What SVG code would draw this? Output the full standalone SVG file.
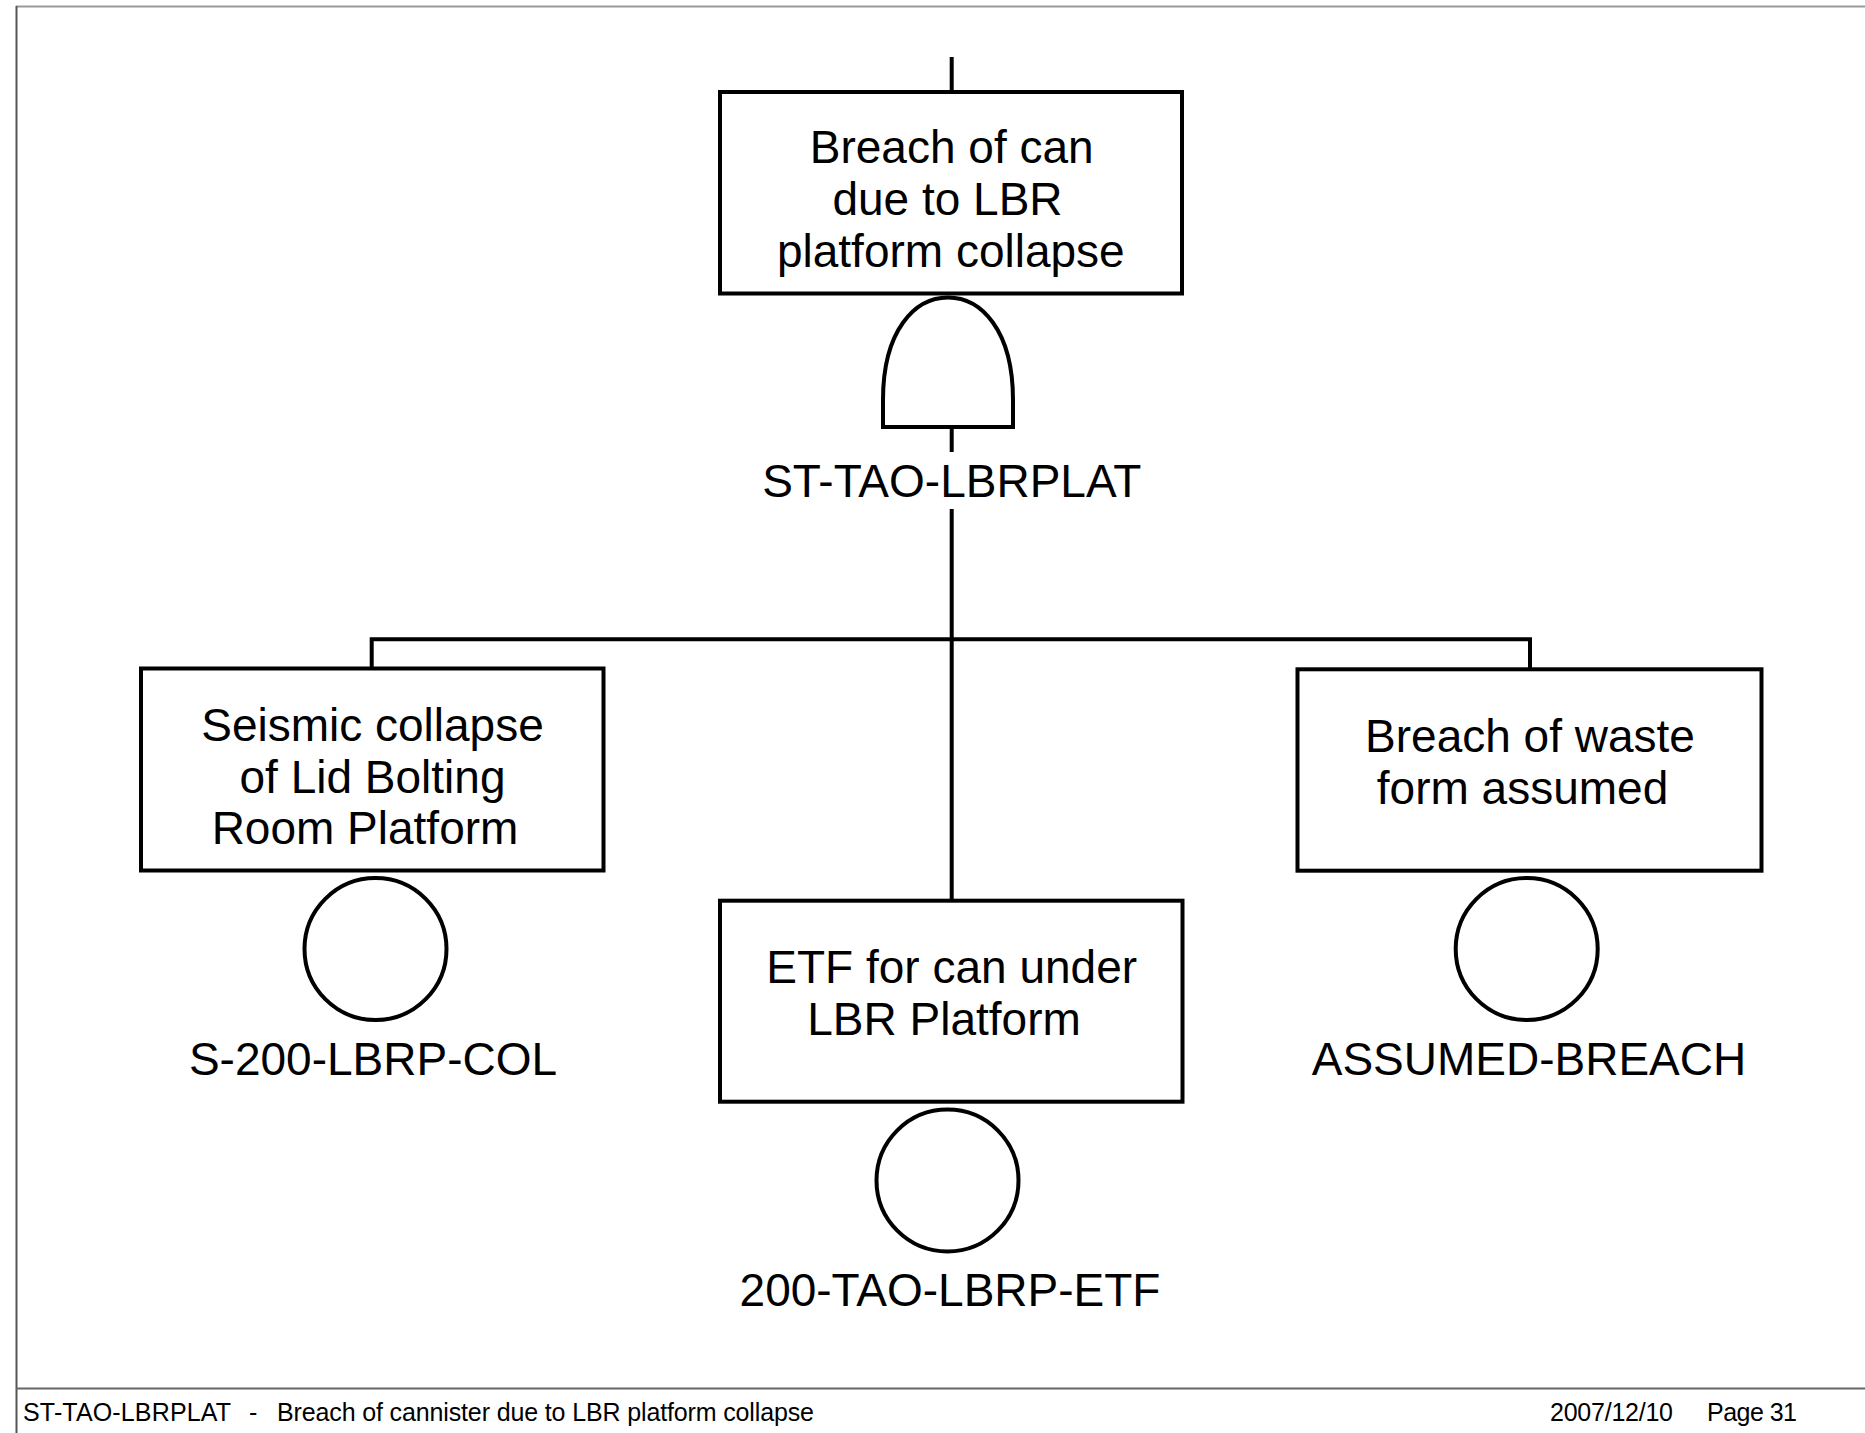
<svg xmlns="http://www.w3.org/2000/svg" width="1865" height="1433" viewBox="0 0 1865 1433">
<style>
  .bx { fill: #fff; stroke: #000; stroke-width: 4; }
  .ln { fill: none; stroke: #000; stroke-width: 4; }
  .t { font-family: "Liberation Sans", Arial, sans-serif; font-size: 46px; fill: #000; text-anchor: middle; }
  .f { font-family: "Liberation Sans", Arial, sans-serif; font-size: 25px; fill: #000; }
</style>
<rect x="0" y="0" width="1865" height="1433" fill="#fff"/>
<g id="page-frame">
  <line x1="16" y1="6.5" x2="1865" y2="6.5" stroke="#9a9a9a" stroke-width="2"/>
  <line x1="16.5" y1="6" x2="16.5" y2="1433" stroke="#555" stroke-width="2"/>
  <line x1="16" y1="1388.5" x2="1865" y2="1388.5" stroke="#666" stroke-width="2"/>
</g>
<g id="connectors">
  <line class="ln" x1="951.7" y1="57" x2="951.7" y2="92"/>
  <line class="ln" x1="951.7" y1="427" x2="951.7" y2="452"/>
  <line class="ln" x1="951.7" y1="509" x2="951.7" y2="901"/>
  <polyline class="ln" points="371.7,669 371.7,639.3 1530,639.3 1530,669"/>
</g>
<g id="top-event">
  <rect class="bx" x="720" y="92" width="462" height="201.5"/>
  <text class="t" x="951.7" y="163.3">Breach of can</text>
  <text class="t" x="947.5" y="215">due to LBR</text>
  <text class="t" x="950.8" y="266.5">platform collapse</text>
</g>
<g id="and-gate">
  <path class="ln" d="M883 427 L883 400 C883 330 915 297.5 948 297.5 C981 297.5 1013 330 1013 400 L1013 427 Z"/>
  <text class="t" x="951.7" y="496.7">ST-TAO-LBRPLAT</text>
</g>
<g id="seismic-collapse">
  <rect class="bx" x="141" y="668.5" width="462.5" height="202"/>
  <text class="t" x="372.5" y="740.5">Seismic collapse</text>
  <text class="t" x="372.5" y="792.5">of Lid Bolting</text>
  <text class="t" x="365" y="844">Room Platform</text>
  <circle class="ln" cx="375.5" cy="949" r="71"/>
  <text class="t" x="373" y="1075">S-200-LBRP-COL</text>
</g>
<g id="etf">
  <rect class="bx" x="720" y="900.7" width="462.5" height="201"/>
  <text class="t" x="951.7" y="983">ETF for can under</text>
  <text class="t" x="944" y="1035.3">LBR Platform</text>
  <circle class="ln" cx="947.5" cy="1180.5" r="71"/>
  <text class="t" x="950" y="1306">200-TAO-LBRP-ETF</text>
</g>
<g id="assumed-breach">
  <rect class="bx" x="1297.5" y="669.3" width="464" height="201.4"/>
  <text class="t" x="1530" y="752">Breach of waste</text>
  <text class="t" x="1522.5" y="803.7">form assumed</text>
  <circle class="ln" cx="1526.7" cy="949" r="71"/>
  <text class="t" x="1529" y="1075">ASSUMED-BREACH</text>
</g>
<g id="footer">
  <text class="f" x="23" y="1421" textLength="208">ST-TAO-LBRPLAT</text>
  <text class="f" x="249" y="1421">-</text>
  <text class="f" x="277" y="1421" textLength="537">Breach of cannister due to LBR platform collapse</text>
  <text class="f" x="1550" y="1421" textLength="123">2007/12/10</text>
  <text class="f" x="1707" y="1421" textLength="90">Page 31</text>
</g>
</svg>
